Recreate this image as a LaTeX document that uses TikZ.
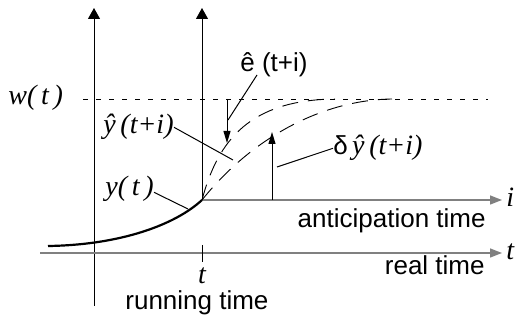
\documentclass[tikz,border=0pt]{standalone}
\usepackage{fontspec}
\setmainfont{Liberation Sans}
\newfontfamily\tms{Liberation Serif}
\usetikzlibrary{arrows.meta}
\begin{document}
\begin{tikzpicture}[x=0.5pt,y=-0.5pt,
  thin line/.style={line width=0.5pt,black},
  axis/.style={line width=0.7pt,black!50},
  vaxis/.style={line width=0.5pt,black},
  vtip/.style={-{Triangle[length=5.5pt,width=6pt]}},
  htip/.style={-{Triangle[length=6pt,width=4.5pt]}},
  small tip/.style={-{Triangle[length=6pt,width=3.5pt]}},
  longdash/.style={line width=0.45pt,dash pattern=on 8pt off 5pt},
  shortdash/.style={line width=0.4pt,dash pattern=on 2.5pt off 4pt},
  lbl/.style={inner sep=0pt,font=\fontsize{13}{15}\selectfont},
  mlbl/.style={inner sep=0pt,font=\fontsize{14}{16}\selectfont\tms\itshape}]
\useasboundingbox (0,0) rectangle (515,320);
% coordinates
\coordinate (v1top) at (94,8);
\coordinate (v1bot) at (94,306);
\coordinate (v2top) at (202,8);
\coordinate (o) at (202,200);
\coordinate (rt0) at (40,253);
\coordinate (rt1) at (502,253);
\coordinate (at1) at (502,200);
\coordinate (tk0) at (202,245);
\coordinate (tk1) at (202,262);
\coordinate (w0) at (83,99);
\coordinate (w1) at (488,99);
\coordinate (ys) at (48,246);
\coordinate (upend) at (335,99);
\coordinate (loend) at (392,99);
\coordinate (eup) at (227,99);
\coordinate (edn) at (227,143);
\coordinate (dbot) at (272,200);
\coordinate (dtop) at (272,132);
\coordinate (yhatpt) at (233,160);
\coordinate (ytpt) at (188,209);
\coordinate (ehatpt) at (228,120);
\coordinate (dypt) at (277,167);
% axes
\draw[vaxis,vtip] (v1bot) -- (v1top);
\draw[vaxis,vtip] (o) -- (v2top);
\draw[axis,htip] (rt0) -- (rt1);
\draw[axis,htip] (o) -- (at1);
\draw[vaxis] (tk0) -- (tk1);
% reference w
\draw[shortdash] (w0) -- (w1);
% measured output
\draw[line width=1.1pt] (ys) .. controls (120,245) and (175,225) .. (o);
% predictions
\draw[longdash] (o) .. controls (218,140) and (250,100) .. (upend);
\draw[longdash] (o) .. controls (250,140) and (320,100) .. (loend);
% arrows
\draw[thin line,small tip] (eup) -- (edn);
\draw[thin line,small tip] (dbot) -- (dtop);
% labels
\node[mlbl,anchor=base west] (wl) at (8,105) {w(\,t\,)};
\node[mlbl,anchor=base west] (yhl) at (103,134) {ŷ\,(t+i)};
\node[mlbl,anchor=base west] (ytl) at (105,196) {y(\,t\,)};
\node[lbl,anchor=base west] (ehl) at (240,72) {ê (t+i)};
\node[lbl,anchor=base west] (dyl) at (333,155) {δ\,{\fontsize{14}{16}\selectfont\tms\itshape ŷ\,(t+i)}};
\node[mlbl,anchor=base west] (il) at (506,207) {i};
\node[mlbl,anchor=base west] (tl) at (506,260) {t};
\node[mlbl,anchor=base] (tt) at (202,284) {t};
\node[lbl,anchor=base east] (antl) at (486,228) {anticipation time};
\node[lbl,anchor=base east] (rtl) at (485,275) {real time};
\node[lbl,anchor=base west] (runl) at (125,310) {running time};
% leaders
\draw[thin line] (yhl.east) -- (yhatpt);
\draw[thin line] (ytl.east) ++(0,3) -- (ytpt);
\draw[thin line] (ehl.base west) ++(17,3) -- (ehatpt);
\draw[thin line] (dyl.west) -- (dypt);
\end{tikzpicture}
\end{document}
